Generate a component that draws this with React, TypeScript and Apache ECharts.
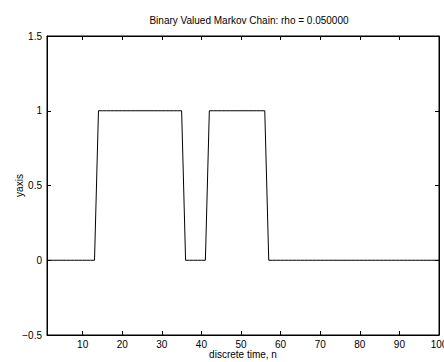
import React, { useEffect, useRef } from "react";
import * as echarts from "echarts";

const titleText = "Binary Valued Markov Chain: rho = 0.050000";
const xLabel = "discrete time, n";
const yLabel = "yaxis";
const xTicks = [10, 20, 30, 40, 50, 60, 70, 80, 90, 100];
const yTicks = [-0.5, 0, 0.5, 1, 1.5];
const nValues = [
  1, 2, 3, 4, 5, 6, 7, 8, 9, 10, 11, 12, 13, 14, 15, 16, 17, 18, 19, 20,
  21, 22, 23, 24, 25, 26, 27, 28, 29, 30, 31, 32, 33, 34, 35, 36, 37, 38, 39, 40,
  41, 42, 43, 44, 45, 46, 47, 48, 49, 50, 51, 52, 53, 54, 55, 56, 57, 58, 59, 60,
  61, 62, 63, 64, 65, 66, 67, 68, 69, 70, 71, 72, 73, 74, 75, 76, 77, 78, 79, 80,
  81, 82, 83, 84, 85, 86, 87, 88, 89, 90, 91, 92, 93, 94, 95, 96, 97, 98, 99, 100,
];
const chainValues = [
  0, 0, 0, 0, 0, 0, 0, 0, 0, 0, 0, 0, 0, 1, 1, 1, 1, 1, 1, 1,
  1, 1, 1, 1, 1, 1, 1, 1, 1, 1, 1, 1, 1, 1, 1, 0, 0, 0, 0, 0,
  0, 1, 1, 1, 1, 1, 1, 1, 1, 1, 1, 1, 1, 1, 1, 1, 0, 0, 0, 0,
  0, 0, 0, 0, 0, 0, 0, 0, 0, 0, 0, 0, 0, 0, 0, 0, 0, 0, 0, 0,
  0, 0, 0, 0, 0, 0, 0, 0, 0, 0, 0, 0, 0, 0, 0, 0, 0, 0, 0, 0,
];

const FONT = "Liberation Sans, Arial, Helvetica, sans-serif";

export default function App() {
  const ref = useRef<HTMLDivElement>(null);
  useEffect(() => {
    if (!ref.current) return;
    const chart = echarts.init(ref.current, null, { renderer: "svg" });
    const axisLine = { show: true, onZero: false, lineStyle: { color: "#000", width: 1 } };
    const tick = { inside: true, length: 4, lineStyle: { color: "#000", width: 1 } };
    chart.setOption({
      animation: false,
      backgroundColor: "#fff",
      title: {
        text: titleText,
        left: 244,
        textAlign: "center",
        top: 10,
        textStyle: { fontFamily: FONT, fontSize: 10, fontWeight: "normal", color: "#000" },
      },
      grid: {
        left: 47,
        right: 5,
        top: 36,
        bottom: 27,
        containLabel: false,
        outerBoundsMode: "none",
        show: true,
        borderColor: "#000",
        borderWidth: 1,
        backgroundColor: "transparent",
      },
      xAxis: [
        {
          type: "value",
          min: 1,
          max: 100,
          position: "bottom",
          axisLine,
          axisTick: { ...tick, customValues: xTicks },
          axisLabel: {
            customValues: xTicks,
            margin: 4,
            fontFamily: FONT,
            fontSize: 10,
            color: "#000",
            hideOverlap: false,
          },
          splitLine: { show: false },
          name: xLabel,
          nameLocation: "middle",
          nameGap: 14,
          nameMoveOverlap: false,
          nameTextStyle: { fontFamily: FONT, fontSize: 10, color: "#000" },
        },
        {
          type: "value",
          min: 1,
          max: 100,
          position: "top",
          axisLine,
          axisTick: { ...tick, customValues: xTicks },
          axisLabel: { show: false },
          splitLine: { show: false },
        },
      ],
      yAxis: [
        {
          type: "value",
          min: -0.5,
          max: 1.5,
          interval: 0.5,
          position: "left",
          axisLine,
          axisTick: { ...tick, customValues: yTicks },
          axisLabel: {
            customValues: yTicks,
            margin: 5,
            fontFamily: FONT,
            fontSize: 10,
            color: "#000",
            formatter: (v: number) => (v < 0 ? "\u2212" + String(-v) : String(v)),
          },
          splitLine: { show: false },
          name: yLabel,
          nameLocation: "middle",
          nameRotate: 90,
          nameGap: 23,
          nameMoveOverlap: false,
          nameTextStyle: { fontFamily: FONT, fontSize: 10, color: "#000" },
        },
        {
          type: "value",
          min: -0.5,
          max: 1.5,
          interval: 0.5,
          position: "right",
          axisLine,
          axisTick: { ...tick, customValues: yTicks },
          axisLabel: { show: false },
          splitLine: { show: false },
        },
      ],
      series: [
        {
          type: "line",
          data: nValues.map((n, i) => [n, chainValues[i]]),
          showSymbol: false,
          lineStyle: { color: "#000", width: 1 },
          itemStyle: { color: "#000" },
          clip: true,
        },
      ],
    });
    return () => chart.dispose();
  }, []);
  return <div ref={ref} style={{ width: 444, height: 362, position: "absolute", left: 0, top: 0 }} />;
}
